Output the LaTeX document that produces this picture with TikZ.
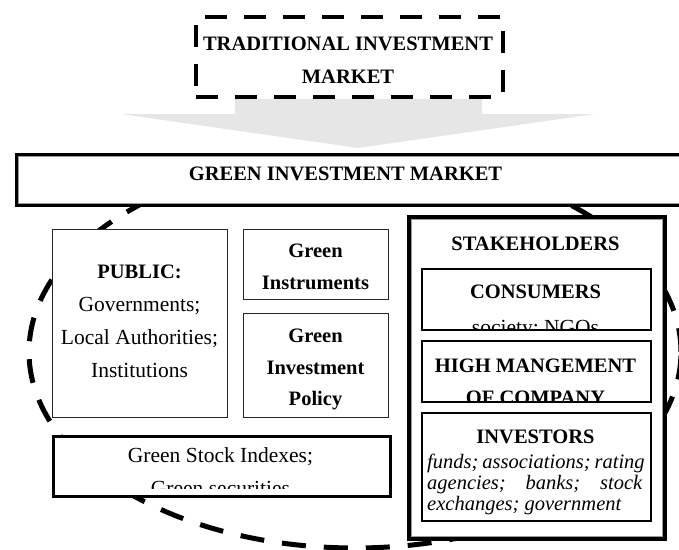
\documentclass[tikz,border=0pt]{standalone}
\usepackage{fontspec}
\setmainfont{Liberation Serif}
\usetikzlibrary{calc}
\definecolor{arrowgray}{HTML}{E6E6E6}
\definecolor{linegray}{HTML}{9A9A9A}
\begin{document}
\begin{tikzpicture}[x=1pt,y=-1pt,
  lbl/.style={inner sep=0pt, anchor=base, font=\fontsize{21.5}{24}\selectfont},
  hd/.style={inner sep=0pt, anchor=base, font=\fontsize{20.5}{24}\selectfont\bfseries},
  itx/.style={inner sep=0pt, anchor=base west, font=\fontsize{20.5}{24}\selectfont\itshape},
  thinbox/.style={draw=black!85, line width=1.2pt, fill=white, inner sep=0pt, anchor=north west},
  midbox/.style={draw=black, line width=2pt, fill=white, inner sep=0pt, anchor=north west},
  gsbox/.style={draw=black, line width=2.6pt, fill=white, inner sep=0pt, anchor=north west},
  heavybox/.style={draw=black, line width=4.5pt, fill=white, inner sep=0pt, anchor=north west},
  stakebox/.style={draw=black, line width=3.5pt, fill=white, inner sep=0pt, anchor=north west},
  innerline/.style={draw=linegray, line width=0.8pt},
  dashbox/.style={draw=black, line width=4pt, dash pattern=on 22pt off 17pt, fill=white, inner sep=0pt},
  bigdash/.style={draw=black, line width=5pt, dash pattern=on 24pt off 18pt}
]
\useasboundingbox (0,0) rectangle (679,549);

% dashed ellipse
\draw[bigdash] (355,352) ellipse [x radius=326pt, y radius=196pt];

% grey arrow
\fill[arrowgray] (235,99) -- (482,99) -- (482,114) -- (595,114) -- (358,148)
   -- (121,114) -- (235,114) -- cycle;

% traditional market
\node[dashbox, minimum width=307pt, minimum height=80pt] (trad) at (349.5,57) {};
\node[hd] (tradA) at (348,50) {TRADITIONAL INVESTMENT};
\node[hd] (tradB) at (348,83) {MARKET};

% green investment market
\node[heavybox, minimum width=670pt, minimum height=50pt] (gim) at (14.5,152.5) {};
\draw[innerline] ($(gim.north west)+(3.5,3.5)$) rectangle ($(gim.south east)+(0,-3.5)$);
\node[hd] (gimtext) at (345.5,180) {GREEN INVESTMENT MARKET};

% public
\node[thinbox, minimum width=175pt, minimum height=188pt] (public) at (52,229) {};
\node[hd]  (pub1) at (139.5,278) {PUBLIC:};
\node[lbl] (pub2) at (139.5,311) {Governments;};
\node[lbl] (pub3) at (139.5,344) {Local Authorities;};
\node[lbl] (pub4) at (139.5,377) {Institutions};

% green instruments
\node[thinbox, minimum width=145pt, minimum height=70pt] (instr) at (243,229) {};
\node[hd] (ins1) at (315.5,257) {Green};
\node[hd] (ins2) at (315.5,289) {Instruments};

% green investment policy
\node[thinbox, minimum width=145pt, minimum height=104pt] (policy) at (243,313) {};
\node[hd] (pol1) at (315.5,342) {Green};
\node[hd] (pol2) at (315.5,374) {Investment};
\node[hd] (pol3) at (315.5,405) {Policy};

% green stock indexes
\node[gsbox, minimum width=337pt, minimum height=60pt] (gsi) at (52,435) {};
\begin{scope}
  \clip ($(gsi.south west)+(2,-9)$) rectangle ($(gsi.north east)+(-2,2)$);
  \node[lbl] (gsi1) at (220.5,462) {Green Stock Indexes;};
  \node[lbl] (gsi2) at (220.5,495) {Green securities};
\end{scope}

% stakeholders
\node[stakebox, minimum width=256pt, minimum height=322pt] (stake) at (407,215) {};
\draw[innerline] ($(stake.north west)+(4,4)$) rectangle ($(stake.south east)+(-4,-4)$);
\node[hd] (stk) at (535.5,250) {STAKEHOLDERS};

% consumers
\node[midbox, minimum width=229pt, minimum height=61pt] (cons) at (421,268) {};
\begin{scope}
  \clip ($(cons.south west)+(1,-1.5)$) rectangle ($(cons.north east)+(-1,1)$);
  \node[hd]  (cons1) at (535.5,298) {CONSUMERS};
  \node[lbl] (cons2) at (535.5,334) {society; NGOs};
\end{scope}

% high management
\node[midbox, minimum width=229pt, minimum height=61pt] (hm) at (421,340) {};
\begin{scope}
  \clip ($(hm.south west)+(1,-1.5)$) rectangle ($(hm.north east)+(-1,1)$);
  \node[hd] (hm1) at (535.5,372) {HIGH MANGEMENT};
  \node[hd] (hm2) at (535.5,404) {OF COMPANY};
\end{scope}

% investors
\node[midbox, minimum width=229pt, minimum height=108pt] (inv) at (421,412) {};
\node[hd]  (inv0) at (535.5,443) {INVESTORS};
\node[itx] (inv1) at (427,468) {\makebox[215pt][s]{funds; associations; rating}};
\node[itx] (inv2) at (427,489) {\makebox[215pt][s]{agencies; banks; stock}};
\node[itx] (inv3) at (427,510) {exchanges; government};
\end{tikzpicture}
\end{document}
